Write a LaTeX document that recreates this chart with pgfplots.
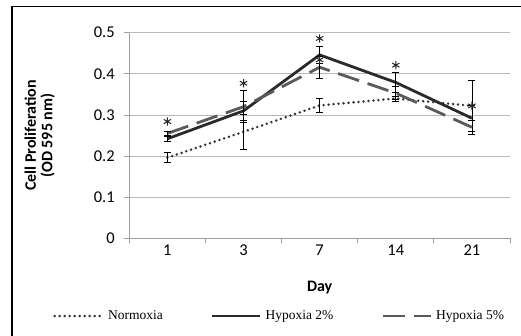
\documentclass[border=0pt]{standalone}
\usepackage{fontspec}
\setmainfont{Carlito}
\newfontfamily\legendfont{Liberation Serif}
\usepackage{pgfplots}
\pgfplotsset{compat=1.18}
\definecolor{solidc}{HTML}{2A2A2A}
\definecolor{dashc}{HTML}{5A5A5A}
\definecolor{dotc}{HTML}{363636}
\pgfplotsset{myerr/.style={error bars/.cd, y dir=both, y explicit,
  error bar style={solid, black, line width=0.6pt, line cap=butt},
  error mark options={rotate=90, mark size=3.5pt, solid, black, line width=0.6pt}}}
\begin{document}
\begin{tikzpicture}[x=1pt,y=1pt]
\path[use as bounding box] (0,0) rectangle (521,336);
\draw[line width=1.6pt, black] (12,-10) -- (12,329.5) -- (540,329.5);
\begin{axis}[
  at={(129.3pt,97.7pt)}, anchor=south west,
  scale only axis, width=380.7pt, height=205.6pt,
  xmin=-0.5, xmax=4.5, ymin=0, ymax=0.5,
  axis x line*=bottom, axis y line*=left,
  axis line style={-, draw=gray!75, line width=0.8pt},
  ytick={0,0.1,0.2,0.3,0.4,0.5},
  yticklabel style={/pgf/number format/fixed, /pgf/number format/precision=1, xshift=-6pt},
  /pgf/number format/assume math mode=true,
  ymajorgrids, grid style={gray!55, line width=0.8pt},
  xtick={-0.5,0.5,1.5,2.5,3.5,4.5}, xticklabels={,,,,,},
  extra x ticks={0,1,2,3,4}, extra x tick labels={1,3,7,14,21},
  extra x tick style={grid=none, major tick length=0pt, xticklabel style={yshift=-3pt}},
  tick align=outside, major tick length=5pt,
  tick style={draw=gray!75, line width=0.8pt},
  ticklabel style={font=\fontsize{16.5}{18}\selectfont},
  xlabel={Day},
  xlabel style={at={(axis description cs:0.5,-0.242)}, anchor=center, font=\bfseries\fontsize{16}{18}\selectfont},
  legend columns=3,
  legend style={at={(axis description cs:0.395,-0.378)}, anchor=center, draw=none, fill=none,
    font=\legendfont\fontsize{13.5}{15}\selectfont,
    /tikz/every odd column/.append style={column sep=2pt},
    /tikz/every even column/.append style={column sep=46pt}},
  legend image code/.code={\draw[#1] (0pt,0pt) -- (48pt,0pt);},
  clip=false,
]
\addplot[dotc, line width=2.8pt, line cap=round, dash pattern=on 0pt off 5pt, myerr] coordinates {
  (0,0.196) +- (0,0.012)
  (1,0.259) +- (0,0.042)
  (2,0.323) +- (0,0.017)
  (3,0.340) +- (0,0.006)
  (4,0.322) +- (0,0.063)
};
\addlegendentry{Normoxia}
\addplot[solidc, line width=2.8pt, myerr] coordinates {
  (0,0.242) +- (0,0.005)
  (1,0.310) +- (0,0.022)
  (2,0.446) +- (0,0.021)
  (3,0.379) +- (0,0.024)
  (4,0.292) +- (0,0.032)
};
\addlegendentry{Hypoxia 2\%}
\addplot[dashc, line width=2.8pt, dash pattern=on 22pt off 9pt, myerr] coordinates {
  (0,0.255) +- (0,0.005)
  (1,0.320) +- (0,0.039)
  (2,0.416) +- (0,0.026)
  (3,0.353) +- (0,0.016)
  (4,0.270) +- (0,0.018)
};
\addlegendentry{Hypoxia 5\%}
\addplot[forget plot, only marks, mark=asterisk, mark size=4.2pt, black!85, line width=1pt] coordinates {
  (0,0.284) (1,0.377) (2,0.486) (2,0.434) (3,0.421) (4,0.322)
};
\node[rotate=90, align=center, anchor=center, font=\bfseries\fontsize{16}{16.5}\selectfont]
  at (axis description cs:-0.235,0.5) {Cell Proliferation\\(OD 595 nm)};
\end{axis}
\end{tikzpicture}
\end{document}
